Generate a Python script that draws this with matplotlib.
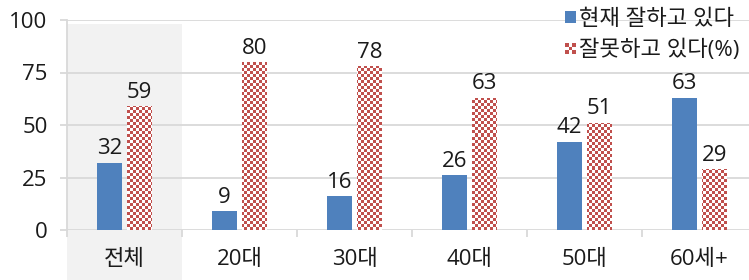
import numpy as np
import matplotlib
matplotlib.use("Agg")
import matplotlib.pyplot as plt
from matplotlib.colors import ListedColormap
from matplotlib.patches import Patch, Rectangle
from matplotlib.legend_handler import HandlerPatch

plt.rcParams['font.family'] = ['Open Sans', 'Noto Sans CJK KR', 'DejaVu Sans']

categories = ["전체", "20대", "30대", "40대", "50대", "60세+"]
good = [32, 9, 16, 26, 42, 63]
bad = [59, 80, 78, 63, 51, 29]
series_names = ["현재 잘하고 있다", "잘못하고 있다(%)"]
yticks = [0, 25, 50, 75, 100]

BLUE = "#4F81BD"
RED = "#C0504D"
GRID = "#d9d9d9"
TXT = "#1a1a1a"
FS = 16

fig = plt.figure(figsize=(7.49, 2.80), dpi=100)
ax = fig.add_axes([67 / 749, 1 - 230 / 280, 682 / 749, 210 / 280])
ax.set_xlim(-0.5, 5.43)
ax.set_ylim(0, 100)

x = np.arange(len(categories))
w = 0.215
off = 0.13

# grey band behind the first category (runs past the axis into the labels)
ax.add_patch(Rectangle((-0.5, -24), 1.0, 122.2, facecolor="#f2f2f2",
                       edgecolor="none", clip_on=False, zorder=0))

for yv in yticks:
    ax.axhline(yv, color=GRID, lw=1.3, zorder=1)

b1 = ax.bar(x - off, good, w, color=BLUE, zorder=3)
b2 = ax.bar(x + off, bad, w, color="white", zorder=3)

# checkerboard fill for the second series, ~3px cells
cell = 3
nx = int(682 / cell) + 1
ny = int(210 / cell) + 1
checker = (np.add.outer(np.arange(ny), np.arange(nx)) % 2).astype(float)
cmap = ListedColormap(["white", RED])
x0, x1 = ax.get_xlim()
for bar in b2:
    im = ax.imshow(checker, extent=[x0, x0 + nx * cell / 682 * (x1 - x0), 0, ny * cell / 210 * 100],
                   origin="lower", cmap=cmap, interpolation="nearest", aspect="auto", zorder=4)
    im.set_clip_path(bar)
ax.set_xlim(x0, x1)
ax.set_ylim(0, 100)

for bars, vals in ((b1, good), (b2, bad)):
    for bar, v in zip(bars, vals):
        ax.annotate(str(v), (bar.get_x() + bar.get_width() / 2, v), xytext=(0, 2.5),
                    textcoords="offset points", ha="center", va="bottom",
                    fontsize=FS, color=TXT, zorder=5)

for s in ["top", "right", "bottom"]:
    ax.spines[s].set_visible(False)
ax.spines["left"].set_color(GRID)
ax.spines["left"].set_linewidth(1.3)

ax.set_yticks(yticks)
ax.tick_params(axis="y", length=5, color=GRID, width=1.3, labelsize=FS, labelcolor=TXT, pad=9)
ax.set_xticks(x)
ax.set_xticklabels(categories)
ax.set_xticks(np.arange(-0.5, 5.5, 1.0), minor=True)
ax.tick_params(axis="x", which="major", length=0, labelsize=FS, labelcolor=TXT, pad=14)
ax.tick_params(axis="x", which="minor", length=5, color=GRID, width=1.3)


class CheckerHandler(HandlerPatch):
    def create_artists(self, legend, orig_handle, xdescent, ydescent, width, height, fontsize, trans):
        n = 3
        s = min(width, height)
        ox = -xdescent + (width - s) / 2
        oy = -ydescent + (height - s) / 2
        arts = [Rectangle((ox, oy), s, s, facecolor="white", edgecolor="none", transform=trans)]
        for i in range(n):
            for j in range(n):
                if (i + j) % 2 == 0:
                    arts.append(Rectangle((ox + i * s / n, oy + j * s / n), s / n, s / n,
                                          facecolor=RED, edgecolor="none", transform=trans))
        return arts


h1 = Patch(facecolor=BLUE, label=series_names[0])
h2 = Patch(facecolor=RED, label=series_names[1])
fig.legend(handles=[h1, h2], loc="upper left", bbox_to_anchor=(565 / 749, 1 - 9 / 280),
           frameon=False, fontsize=FS, handlelength=0.5, handleheight=0.5,
           handletextpad=0.15, labelspacing=0.45, borderpad=0, borderaxespad=0,
           labelcolor=TXT, handler_map={h2: CheckerHandler()})

fig.savefig("out.png", dpi=100)
